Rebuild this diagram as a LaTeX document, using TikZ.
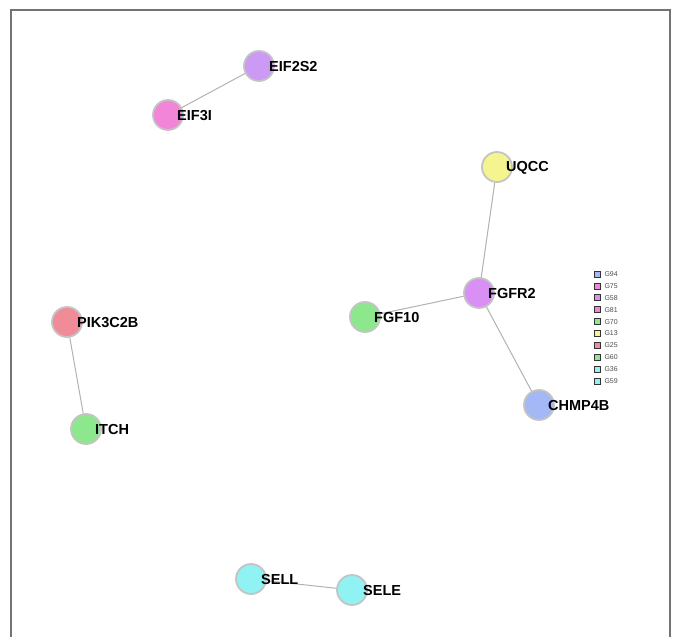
\documentclass[tikz,border=0pt]{standalone}
\usepackage{fontspec}
\setmainfont{Liberation Sans}
\usetikzlibrary{positioning}
\definecolor{cviol}{HTML}{CC99F5}
\definecolor{cpink}{HTML}{F285D8}
\definecolor{cyell}{HTML}{F5F58F}
\definecolor{cmag}{HTML}{DA8FF5}
\definecolor{cgreen}{HTML}{8DE88D}
\definecolor{cblue}{HTML}{A3B8F5}
\definecolor{cred}{HTML}{F08C98}
\definecolor{ccyan}{HTML}{90F2F2}
\definecolor{crim}{HTML}{C4C4C4}
\tikzset{
  gene/.style={circle,draw=crim,line width=1.8pt,minimum size=30pt,inner sep=0pt,fill=#1},
  lab/.style={font=\bfseries\fontsize{14.5}{15}\selectfont,inner sep=0pt,anchor=west},
  edge/.style={draw=black!30,line width=1pt},
  key/.style={draw=black!80,line width=0.7pt,minimum size=6pt,inner sep=0pt,fill=#1},
  keytxt/.style={font=\fontsize{7}{7}\selectfont,inner sep=0pt,anchor=west,text=black!70}
}
\begin{document}
\begin{tikzpicture}[x=1pt,y=-1pt]
\useasboundingbox (0,0) rectangle (673,637);
\draw[black!55,line width=1.4pt] (11,640) -- (11,10) -- (670,10) -- (670,640);
%
\node[gene=cviol] (eif2s2) at (259,66) {};
\node[gene=cpink] (eif3i) at (168,115) {};
\node[gene=cyell] (uqcc) at (497,167) {};
\node[gene=cmag] (fgfr2) at (479,293) {};
\node[gene=cgreen] (fgf10) at (365,317) {};
\node[gene=cblue] (chmp4b) at (539,405) {};
\node[gene=cred] (pik3c2b) at (67,322) {};
\node[gene=cgreen] (itch) at (86,429) {};
\node[gene=ccyan] (sell) at (251,579) {};
\node[gene=ccyan] (sele) at (352,590) {};
%
\draw[edge] (eif2s2) -- (eif3i);
\draw[edge] (uqcc) -- (fgfr2);
\draw[edge] (fgfr2) -- (fgf10);
\draw[edge] (fgfr2) -- (chmp4b);
\draw[edge] (pik3c2b) -- (itch);
\draw[edge] (sell) -- (sele);
%
\node[lab] at ([xshift=10pt,yshift=-1pt]eif2s2.center) {EIF2S2};
\node[lab] at ([xshift=9pt,yshift=-1pt]eif3i.center) {EIF3I};
\node[lab] at ([xshift=9pt,yshift=-1pt]uqcc.center) {UQCC};
\node[lab] at ([xshift=9pt,yshift=-1pt]fgfr2.center) {FGFR2};
\node[lab] at ([xshift=9pt,yshift=-1pt]fgf10.center) {FGF10};
\node[lab] at ([xshift=9pt,yshift=-1pt]chmp4b.center) {CHMP4B};
\node[lab] at ([xshift=10pt,yshift=-1pt]pik3c2b.center) {PIK3C2B};
\node[lab] at ([xshift=9pt,yshift=-1pt]itch.center) {ITCH};
\node[lab] at ([xshift=10pt,yshift=-1pt]sell.center) {SELL};
\node[lab] at ([xshift=11pt,yshift=-1pt]sele.center) {SELE};
%
\foreach \g/\c [count=\i from 0] in {G94/cblue,G75/cpink,G58/cmag,G81/cpink,G70/cgreen,G13/cyell,G25/cred,G60/cgreen,G36/ccyan,G59/ccyan}{
  \node[key=\c] (k\i) at (597,274+11.9*\i) {};
  \node[keytxt,right=4pt of k\i] (t\i) {\g};
}
\end{tikzpicture}
\end{document}
